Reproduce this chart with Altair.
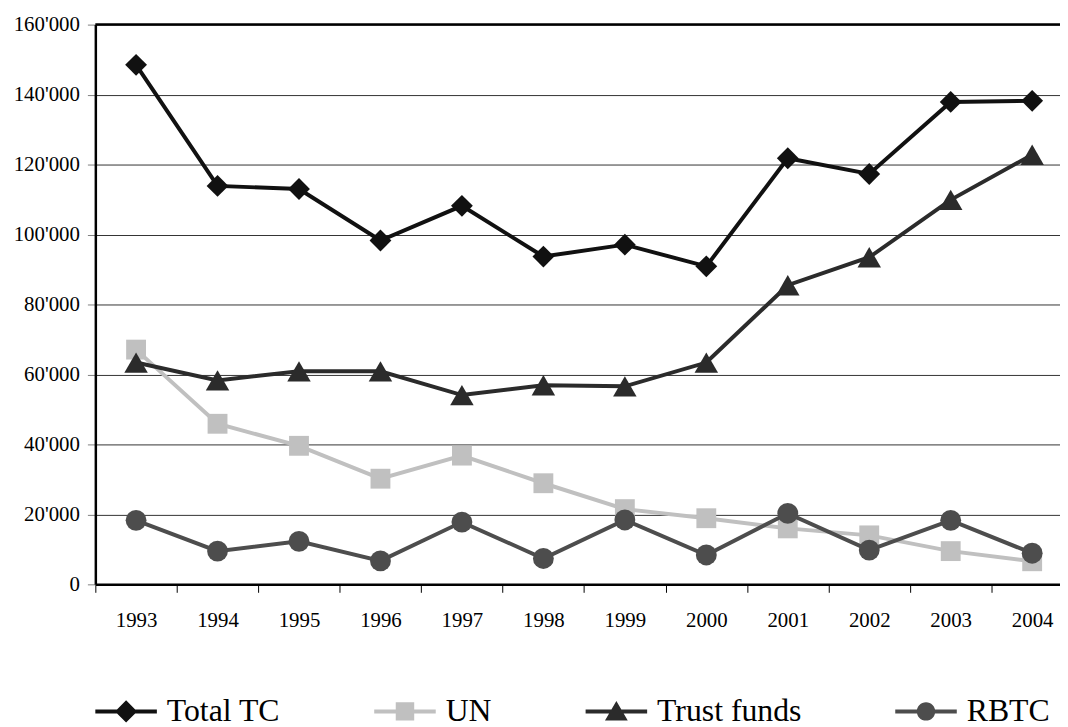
import altair as alt
import pandas as pd

# ---------------- data ----------------
years = ["1993", "1994", "1995", "1996", "1997", "1998",
         "1999", "2000", "2001", "2002", "2003", "2004"]
series_names = ["Total TC", "UN", "Trust funds", "RBTC"]
total_tc = [148500, 113900, 113000, 98300, 108200, 93700, 97100, 90900, 121800, 117300, 137900, 138200]
un = [67100, 45900, 39600, 30200, 36800, 28900, 21500, 18900, 16000, 14000, 9500, 6600]
trust_funds = [63400, 58300, 60900, 60900, 54100, 56900, 56600, 63400, 85500, 93500, 109900, 122800]
rbtc = [18300, 9500, 12300, 6700, 17800, 7400, 18400, 8400, 20300, 9800, 18300, 8900]
y_ticks = [0, 20000, 40000, 60000, 80000, 100000, 120000, 140000, 160000]
frame_top = [160000]

# ---------------- styles ----------------
FONT = "Liberation Serif"
colors = ["#111111", "#c0c0c0", "#2b2b2b", "#4d4d4d"]
marker_shapes = ["diamond", "square", "triangle-up", "circle"]
marker_sizes = [484, 400, 560, 441]
line_rect = "M-1,-0.065H1V0.065H-1Z "
legend_paths = [
    line_rect + "M0,-0.36L0.36,0L0,0.36L-0.36,0Z",
    line_rect + "M-0.3,-0.3H0.3V0.3H-0.3Z",
    line_rect + "M0,-0.34L0.37,0.3L-0.37,0.3Z",
    line_rect + "M-0.3,0A0.3,0.3 0 1,1 0.3,0A0.3,0.3 0 1,1 -0.3,0Z",
]

rows = []
for name, vals in zip(series_names, [total_tc, un, trust_funds, rbtc]):
    for yr, v in zip(years, vals):
        rows.append({"year": yr, "value": v, "series": name})
df = pd.DataFrame(rows)

x_scale = alt.Scale(domain=years, paddingInner=0, paddingOuter=0)
y_scale = alt.Scale(domain=[0, 160000], nice=False, zero=True)

x_axis = alt.Axis(title=None, grid=False, tickBand="extent", labelAngle=0,
                  domainColor="black", domainWidth=2.5, tickColor="#000000",
                  tickWidth=1, tickSize=8, labelFont=FONT, labelFontSize=21,
                  labelColor="black", labelPadding=17)
y_axis = alt.Axis(title=None, values=y_ticks, grid=True, gridColor="#333333",
                  gridWidth=1, domainColor="black", domainWidth=2.5,
                  tickColor="#808080", tickWidth=1, tickSize=8,
                  labelFont=FONT, labelFontSize=21, labelColor="black",
                  labelPadding=8,
                  labelExpr="replace(format(datum.value, ','), ',', \"'\")")

x_enc = alt.X("year:N", scale=x_scale, axis=x_axis)
y_enc = alt.Y("value:Q", scale=y_scale, axis=y_axis)

layers = []

# top frame line
top_rule = alt.Chart(pd.DataFrame({"value": frame_top})).mark_rule(
    color="black", strokeWidth=2.5
).encode(y=y_enc)
layers.append(top_rule)

for name, c, shp, sz in zip(series_names, colors, marker_shapes, marker_sizes):
    base = alt.Chart(df).transform_filter(alt.datum.series == name)
    layers.append(base.mark_line(color=c, strokeWidth=4).encode(x=x_enc, y=y_enc))
    layers.append(base.mark_point(shape=shp, size=sz, filled=True, color=c,
                                  opacity=1).encode(x=x_enc, y=y_enc))

legend_def = alt.Legend(
    title=None, orient="none", legendX=0, legendY=661, direction="horizontal",
    symbolSize=3844, symbolStrokeWidth=0, symbolOpacity=1,
    labelFont=FONT, labelFontSize=32, labelColor="black", labelOffset=10,
    columnPadding=94, padding=0, labelLimit=400,
)
legend_layer = alt.Chart(df).transform_filter("datum.value < 0").mark_point(
    filled=True, opacity=1
).encode(
    x=x_enc, y=y_enc,
    color=alt.Color("series:N", scale=alt.Scale(domain=series_names, range=colors),
                    legend=legend_def),
    shape=alt.Shape("series:N", scale=alt.Scale(domain=series_names, range=legend_paths),
                    legend=legend_def),
)
layers.append(legend_layer)

chart = alt.layer(*layers).properties(
    width=985, height=564,
    autosize=alt.AutoSizeParams(type="none"),
    padding={"left": 88, "top": 14, "right": -13, "bottom": 141},
    background="white",
).configure_view(stroke=None)

chart.save("out.html", embed_options={"renderer": "svg", "actions": False})
